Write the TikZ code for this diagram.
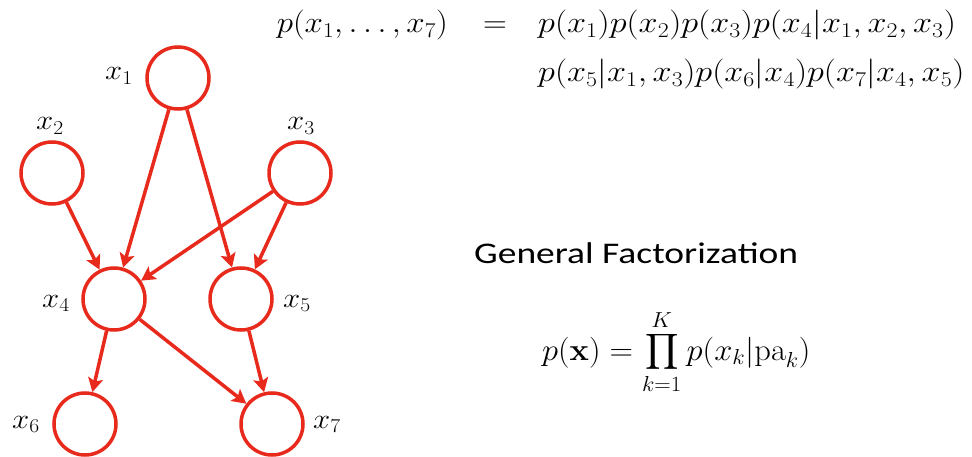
\RequirePackage{fix-cm}
\documentclass[tikz,border=0pt]{standalone}
\usepackage{amsmath}
\usepackage{graphicx}
\usepackage[no-math]{fontspec}
\newfontfamily\calib{Carlito}
\usetikzlibrary{arrows.meta}
\definecolor{nodered}{RGB}{232,42,28}
\newcommand{\hs}[2]{\scalebox{#1}[1]{#2}}
\tikzset{
  var/.style={circle, draw=nodered, line width=3.5pt, minimum size=62pt, inner sep=0pt},
  lab/.style={inner sep=0pt, anchor=base west, font=\fontsize{28}{32}\selectfont},
  eqtext/.style={inner sep=0pt, font=\fontsize{30}{36}\selectfont},
  arr/.style={draw=nodered, line width=3.5pt, -{Stealth[length=14pt,width=15pt,inset=3pt]}, fill=nodered}
}
\begin{document}
\begin{tikzpicture}[x=1pt,y=-1pt]
\useasboundingbox (0,0) rectangle (972,457);
% nodes
\node[var] (n1) at (178,78) {};
\node[var] (n2) at (52,173) {};
\node[var] (n3) at (300,173) {};
\node[var] (n4) at (114,299) {};
\node[var] (n5) at (241,299) {};
\node[var] (n6) at (85,424) {};
\node[var] (n7) at (272,424) {};
% labels
\node[lab] (l1) at (105,80) {\hs{1.1}{$x_1$}};
\node[lab] (l2) at (36,130) {\hs{1.1}{$x_2$}};
\node[lab] (l3) at (287,130) {\hs{1.1}{$x_3$}};
\node[lab] (l4) at (42,307) {\hs{1.1}{$x_4$}};
\node[lab] (l5) at (283,307) {\hs{1.1}{$x_5$}};
\node[lab] (l6) at (12,428) {\hs{1.1}{$x_6$}};
\node[lab] (l7) at (313,428) {\hs{1.1}{$x_7$}};
% edges
\draw[arr] (n1) -- (n4);
\draw[arr] (n1) -- (n5);
\draw[arr] (n2) -- (n4);
\draw[arr] (n3) -- (n4);
\draw[arr] (n3) -- (n5);
\draw[arr] (n4) -- (n6);
\draw[arr] (n4) -- (n7);
\draw[arr] (n5) -- (n7);
% equations
\node[eqtext, anchor=base east] (lhs) at (448,33) {\hs{1.1}{$p(x_1,\ldots,x_7)$}};
\node[eqtext, anchor=base] (eq) at (495,33) {\hs{1.1}{$=$}};
\node[eqtext, anchor=base west] (rhs1) at (538,33) {\hs{1.14}{$p(x_1)p(x_2)p(x_3)p(x_4|x_1,x_2,x_3)$}};
\node[eqtext, anchor=base west] (rhs2) at (538,82) {\hs{1.14}{$p(x_5|x_1,x_3)p(x_6|x_4)p(x_7|x_4,x_5)$}};
\node[inner sep=0pt, anchor=base west, font=\calib\fontsize{30}{36}\selectfont] (gf) at (474,263) {\hs{1.25}{General Factorization}};
\node[inner sep=0pt, anchor=base west, font=\fontsize{31}{37}\selectfont] (prod) at (542,360) {\hs{1.05}{$\displaystyle p(\mathbf{x}) = \prod_{k=1}^{K} p(x_k|\mathrm{pa}_k)$}};
\end{tikzpicture}
\end{document}
